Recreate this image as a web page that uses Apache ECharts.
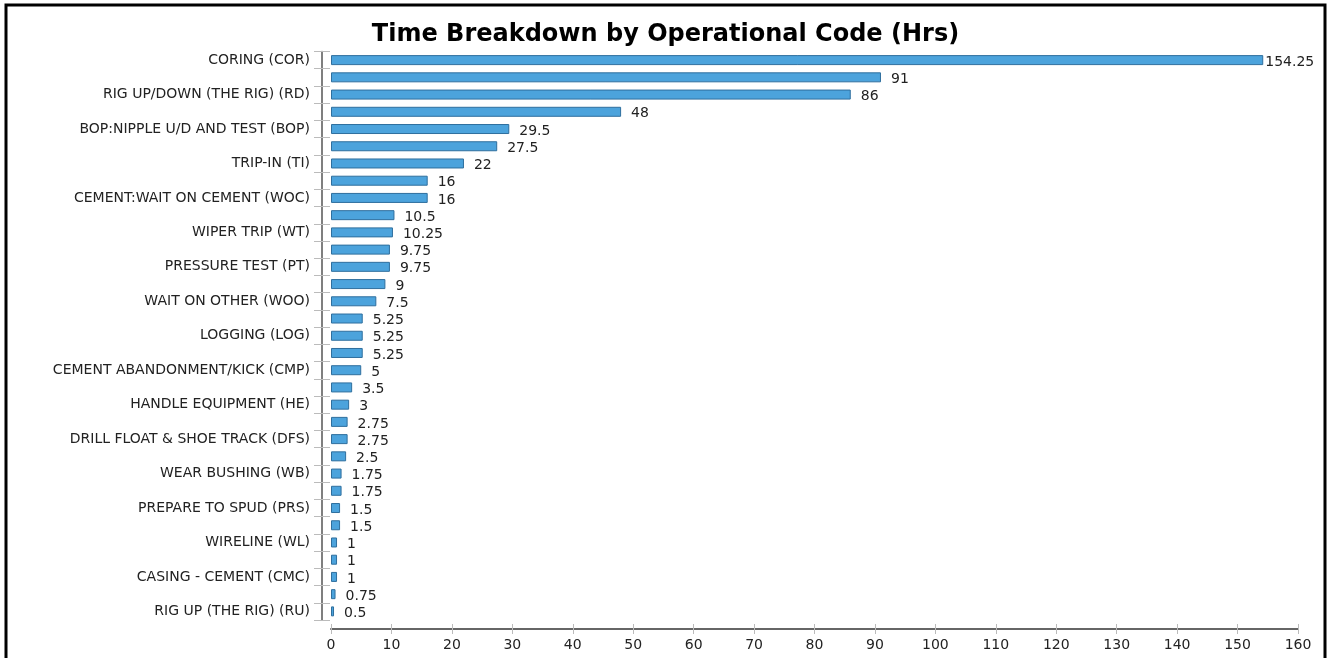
<!DOCTYPE html>
<html>
<head>
<meta charset="utf-8">
<script src="https://cdn.jsdelivr.net/npm/echarts@6/dist/echarts.min.js"></script>
<style>
  html, body { margin: 0; padding: 0; background: #fff; }
  #chart { width: 1331px; height: 658px; }
</style>
</head>
<body>
<div id="chart"></div>
<script>
// operation codes, top to bottom (only every other one is labelled in the picture)
var codes = [
  'CORING (COR)', 'CODE 02',
  'RIG UP/DOWN (THE RIG) (RD)', 'CODE 04',
  'BOP:NIPPLE U/D AND TEST (BOP)', 'CODE 06',
  'TRIP-IN (TI)', 'CODE 08',
  'CEMENT:WAIT ON CEMENT (WOC)', 'CODE 10',
  'WIPER TRIP (WT)', 'CODE 12',
  'PRESSURE TEST (PT)', 'CODE 14',
  'WAIT ON OTHER (WOO)', 'CODE 16',
  'LOGGING (LOG)', 'CODE 18',
  'CEMENT ABANDONMENT/KICK (CMP)', 'CODE 20',
  'HANDLE EQUIPMENT (HE)', 'CODE 22',
  'DRILL FLOAT & SHOE TRACK (DFS)', 'CODE 24',
  'WEAR BUSHING (WB)', 'CODE 26',
  'PREPARE TO SPUD (PRS)', 'CODE 28',
  'WIRELINE (WL)', 'CODE 30',
  'CASING - CEMENT (CMC)', 'CODE 32',
  'RIG UP (THE RIG) (RU)'
];

var hours = [
  154.25, 91, 86, 48, 29.5, 27.5, 22, 16, 16, 10.5, 10.25,
  9.75, 9.75, 9, 7.5, 5.25, 5.25, 5.25, 5, 3.5, 3, 2.75,
  2.75, 2.5, 1.75, 1.75, 1.5, 1.5, 1, 1, 1, 0.75, 0.5
];

var xMin = 0, xMax = 160, xStep = 10;

var chart = echarts.init(document.getElementById('chart'));

var font = 'DejaVu Sans';

var barData = hours.map(function (v, i) {
  var item = { value: v };
  if (i === 0) item.label = { distance: 2 };
  return item;
});

// two copies of each axis: one draws ticks outside, the other inside
function yAxisBase(inside) {
  return {
    type: 'category',
    data: codes,
    inverse: true,
    position: 'left',
    offset: 9,
    axisLine: { show: !inside, onZero: false, lineStyle: { color: '#555', width: 1.5 } },
    axisTick: { show: true, inside: inside, length: 8, interval: 0, lineStyle: { color: '#bbb' } },
    axisLabel: {
      show: !inside, interval: 1, margin: 12,
      color: '#222', fontFamily: font, fontSize: 14
    },
    splitLine: { show: false }
  };
}

function xAxisBase(inside) {
  return {
    type: 'value',
    min: xMin, max: xMax, interval: xStep,
    position: 'bottom',
    offset: 9,
    axisLine: { show: !inside, onZero: false, lineStyle: { color: '#666', width: 2 } },
    axisTick: { show: true, inside: inside, length: 5, lineStyle: { color: '#bbb' } },
    axisLabel: {
      show: !inside, margin: 9,
      color: '#222', fontFamily: font, fontSize: 14
    },
    splitLine: { show: false }
  };
}

chart.setOption({
  animation: false,
  title: {
    text: 'Time Breakdown by Operational Code (Hrs)',
    left: 'center',
    top: 18,
    textStyle: { fontFamily: font, fontWeight: 'bold', fontSize: 24, color: '#000' }
  },
  graphic: [{
    type: 'rect',
    shape: { x: 6, y: 5, width: 1319, height: 670 },
    style: { fill: 'none', stroke: '#000', lineWidth: 3 },
    silent: true
  }],
  grid: { left: 331, right: 33, top: 51.5, bottom: 38 },
  xAxis: [xAxisBase(false), xAxisBase(true)],
  yAxis: [yAxisBase(false), yAxisBase(true)],
  series: [{
    type: 'bar',
    xAxisIndex: 0,
    yAxisIndex: 0,
    data: barData,
    barWidth: 10,
    itemStyle: { color: '#4ca3dc', borderColor: '#2f6f9e', borderWidth: 1 },
    label: {
      show: true, position: 'right', distance: 10, offset: [0, 2],
      color: '#222', fontFamily: font, fontSize: 14
    }
  }]
});
</script>
</body>
</html>
